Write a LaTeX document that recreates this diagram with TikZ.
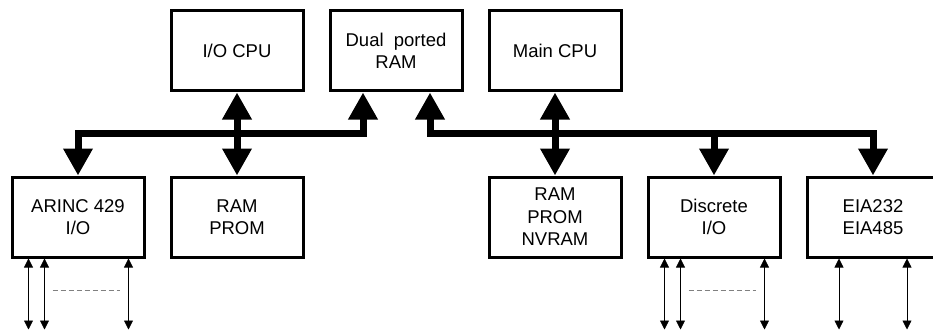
\documentclass[tikz,border=0pt]{standalone}
\usepackage{fontspec}
\setmainfont{Liberation Sans}
\usetikzlibrary{arrows.meta}

\begin{document}
\begin{tikzpicture}[x=1pt, y=1pt, node distance={159pt},
    block/.style={draw, line width=3pt, minimum width=132pt, minimum height=80pt, align=center, font=\fontsize{18.5}{22.5}\selectfont},
    bushead/.tip={Triangle[length=27pt, width=28pt]},
    iohead/.tip={Triangle[length=9pt, width=9pt]},
    bus/.style={line width=7pt},
    io/.style={line width=0.8pt, iohead-iohead},
    gapline/.style={gray, line width=0.8pt, dash pattern=on 5pt off 3pt}]
        \useasboundingbox (0,0) rectangle (933,-334);
        \node[block] (iocpu) at (237,-51) {I/O CPU};
        \node[block] (dual) [right of=iocpu] {Dual\ \ ported\\RAM};
        \node[block] (main) [right of=dual] {Main CPU};
        \node[block] (ramprom) [below of=iocpu, yshift=-7pt] {RAM\\PROM};
        \node[block] (arinc) [left of=ramprom] {ARINC 429\\I/O};
        \node[block] (nvram) [below of=main, yshift=-7pt] {RAM\\PROM\\NVRAM};
        \node[block] (discrete) [right of=nvram] {Discrete\\I/O};
        \node[block] (eia) [right of=discrete] {EIA232\\EIA485};
        \coordinate (bus) at (0,-133);
        \draw[bus, bushead-bushead] ([xshift=-33pt]dual.south) |- (arinc.north |- bus) -- (arinc.north);
        \draw[bus, bushead-bushead] ([xshift=34pt]dual.south) |- (eia.north |- bus) -- (eia.north);
        \draw[bus, bushead-bushead] (iocpu) -- (ramprom);
        \draw[bus, bushead-bushead] (main) -- (nvram);
        \draw[bus, -bushead] (discrete.north |- bus) -- (discrete.north);
        \foreach \dx in {18,34,118} {
            \draw[io] ([xshift=\dx pt]arinc.south west) -- ++(0,-71);
            \draw[io] ([xshift=\dx pt]discrete.south west) -- ++(0,-71);
        }
        \foreach \dx in {-34,34}
            \draw[io] ([xshift=\dx pt]eia.south) -- ++(0,-71);
        \draw[gapline] ([shift={(42,-32)}]arinc.south west) -- ++(67,0);
        \draw[gapline] ([shift={(42,-32)}]discrete.south west) -- ++(67,0);
    \end{tikzpicture}
\end{document}
